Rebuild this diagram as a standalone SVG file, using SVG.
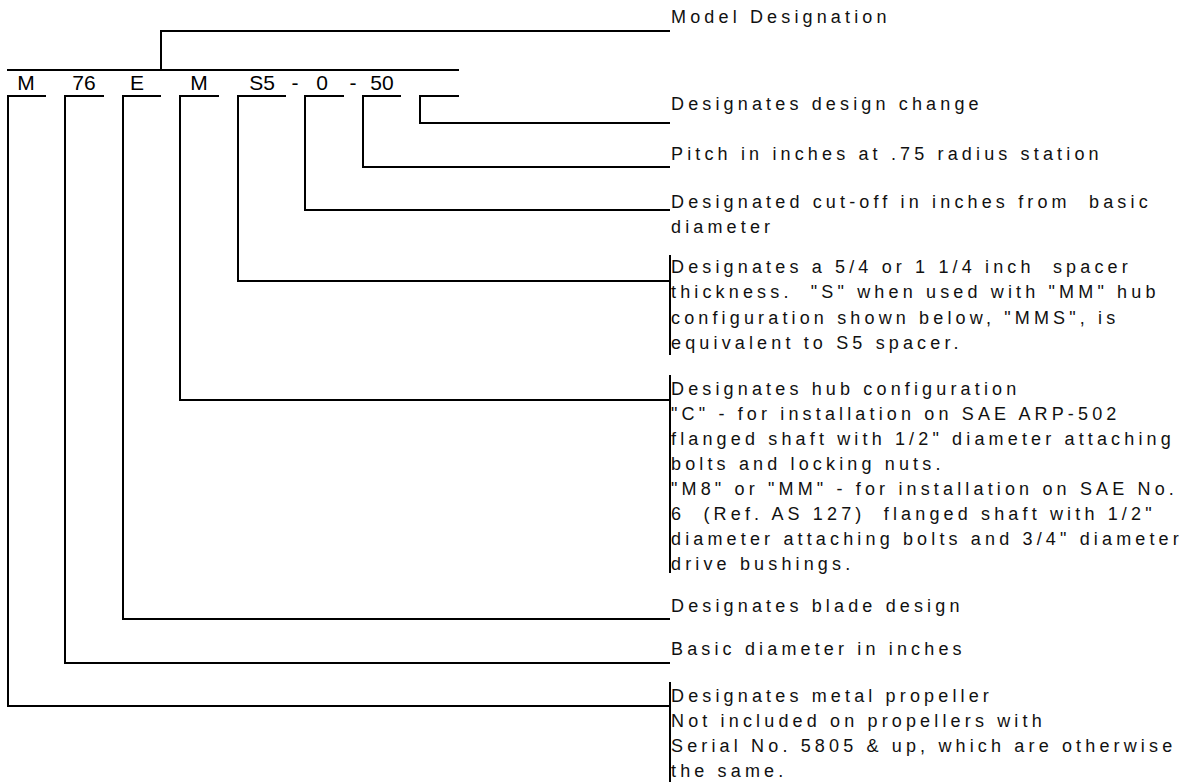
<svg xmlns="http://www.w3.org/2000/svg" width="1192" height="782" viewBox="0 0 1192 782">
<style>
.ln{fill:none;stroke:#000;stroke-width:2}
.code{font-family:"Liberation Sans",Arial,sans-serif;font-size:21px;text-anchor:middle;fill:#000}
.lbl{font-family:"Liberation Sans",Arial,sans-serif;font-size:18px;letter-spacing:4.15px;fill:#111;white-space:pre}
</style>
<rect width="1192" height="782" fill="#fff"/>
<g id="code">
<text class="code" x="26" y="90">M</text>
<text class="code" x="84" y="90">76</text>
<text class="code" x="137" y="90">E</text>
<text class="code" x="199" y="90">M</text>
<text class="code" x="262" y="90">S5</text>
<text class="code" x="295" y="90">-</text>
<text class="code" x="322" y="90">0</text>
<text class="code" x="353" y="90">-</text>
<text class="code" x="382" y="90">50</text>
</g>
<g id="connectors">
<polyline class="ln" points="7,70 459,70"/>
<polyline class="ln" points="161,70 161,31 670,31"/>
<polyline class="ln" points="46,96 8,96 8,706 670,706"/>
<polyline class="ln" points="104,96 65,96 65,663 670,663"/>
<polyline class="ln" points="161,96 123,96 123,619 670,619"/>
<polyline class="ln" points="219,96 180,96 180,400 670,400"/>
<polyline class="ln" points="286,96 238,96 238,281 670,281"/>
<polyline class="ln" points="344,96 305,96 305,210 670,210"/>
<polyline class="ln" points="401,96 363,96 363,167 670,167"/>
<polyline class="ln" points="459,96 420,96 420,123 670,123"/>
<line class="ln" x1="670" y1="255" x2="670" y2="355"/>
<line class="ln" x1="670" y1="375" x2="670" y2="573"/>
<line class="ln" x1="670" y1="682" x2="670" y2="782"/>
</g>
<g id="model">
<text class="lbl" x="671" y="23">Model Designation</text>
</g>
<g id="design-change">
<text class="lbl" x="671" y="110">Designates design change</text>
</g>
<g id="pitch">
<text class="lbl" x="671" y="160">Pitch in inches at .75 radius station</text>
</g>
<g id="cutoff">
<text class="lbl" x="671" y="208">Designated cut-off in inches from  basic</text>
<text class="lbl" x="671" y="233">diameter</text>
</g>
<g id="spacer">
<text class="lbl" x="671" y="273">Designates a 5/4 or 1 1/4 inch  spacer</text>
<text class="lbl" x="671" y="298">thickness.  "S" when used with "MM" hub</text>
<text class="lbl" x="671" y="324">configuration shown below, "MMS", is</text>
<text class="lbl" x="671" y="349">equivalent to S5 spacer.</text>
</g>
<g id="hub">
<text class="lbl" x="671" y="395">Designates hub configuration</text>
<text class="lbl" x="671" y="420">"C" - for installation on SAE ARP-502</text>
<text class="lbl" x="671" y="445">flanged shaft with 1/2" diameter attaching</text>
<text class="lbl" x="671" y="470">bolts and locking nuts.</text>
<text class="lbl" x="671" y="495">"M8" or "MM" - for installation on SAE No.</text>
<text class="lbl" x="671" y="520">6  (Ref. AS 127)  flanged shaft with 1/2"</text>
<text class="lbl" x="671" y="545">diameter attaching bolts and 3/4" diameter</text>
<text class="lbl" x="671" y="570">drive bushings.</text>
</g>
<g id="blade">
<text class="lbl" x="671" y="612">Designates blade design</text>
</g>
<g id="diameter">
<text class="lbl" x="671" y="655">Basic diameter in inches</text>
</g>
<g id="metal">
<text class="lbl" x="671" y="702">Designates metal propeller</text>
<text class="lbl" x="671" y="727">Not included on propellers with</text>
<text class="lbl" x="671" y="752">Serial No. 5805 &amp; up, which are otherwise</text>
<text class="lbl" x="671" y="777">the same.</text>
</g>
</svg>
